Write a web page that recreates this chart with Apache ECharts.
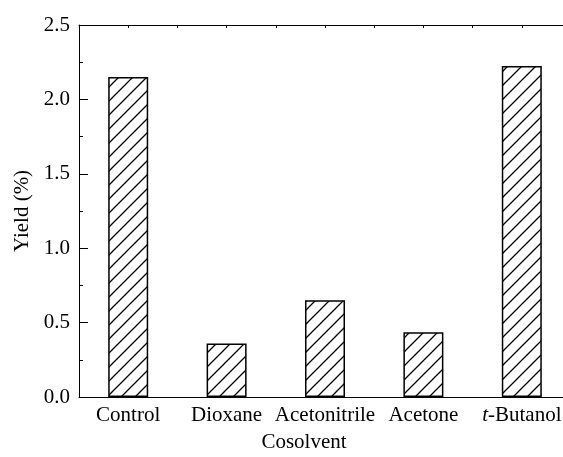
<!DOCTYPE html>
<html>
<head>
<meta charset="utf-8">
<script src="https://cdn.jsdelivr.net/npm/echarts@6/dist/echarts.min.js"></script>
<style>
  html, body { margin: 0; padding: 0; background: #fff; }
  #chart { width: 563px; height: 457px; }
</style>
</head>
<body>
<div id="chart"></div>
<script>
'use strict';

var categories = ['Control', 'Dioxane', 'Acetonitrile', 'Acetone', 't-Butanol'],
    yieldValues = [2.15, 0.36, 0.65, 0.435, 2.225],
    yTicks = ['0.0', '0.5', '1.0', '1.5', '2.0', '2.5'];

// diagonal hatch tile
var tile = document.createElement('canvas');
tile.width = 14;
tile.height = 14;
var ctx = tile.getContext('2d');
ctx.fillStyle = '#fff';
ctx.fillRect(0, 0, 14, 14);
ctx.strokeStyle = '#000';
ctx.lineWidth = 1.3;
ctx.beginPath();
ctx.moveTo(-1, 15); ctx.lineTo(15, -1);
ctx.moveTo(-1, 1); ctx.lineTo(1, -1);
ctx.moveTo(13, 15); ctx.lineTo(15, 13);
ctx.stroke();

var font = 'Liberation Serif';

var chart = echarts.init(document.getElementById('chart'));

var option = {
    animation: false,
    backgroundColor: '#fff',
    grid: {
        left: 79,
        top: 25,
        width: 492,
        height: 372,
        containLabel: false,
        outerBoundsMode: 'none'
    },
    xAxis: [{
        type: 'category',
        position: 'bottom',
        data: categories,
        name: 'Cosolvent',
        nameLocation: 'middle',
        nameGap: 35,
        nameTextStyle: {
            fontFamily: font,
            fontSize: 21,
            color: '#000',
            padding: [0, 42, 0, 0]
        },
        axisLine: { lineStyle: { color: '#000', width: 1 } },
        axisTick: { inside: true, length: 3, lineStyle: { color: '#000' } },
        axisLabel: {
            interval: 0,
            fontFamily: font,
            fontSize: 21,
            color: '#000',
            margin: 8,
            formatter: function (v) {
                return v.charAt(0) === 't' ? '{i|t}' + v.slice(1) : v;
            },
            rich: {
                i: { fontFamily: font, fontSize: 21, fontStyle: 'italic', color: '#000' }
            }
        },
        splitLine: { show: false }
    }, {
        type: 'value',
        position: 'top',
        min: 0,
        max: 10,
        interval: 1,
        axisLine: { show: true, lineStyle: { color: '#000', width: 1 } },
        axisTick: { show: true, inside: true, length: 3, lineStyle: { color: '#000' } },
        axisLabel: { show: false },
        splitLine: { show: false }
    }],
    yAxis: [{
        type: 'value',
        min: 0,
        max: 2.5,
        interval: 0.5,
        name: 'Yield (%)',
        nameLocation: 'middle',
        nameGap: 45,
        nameTextStyle: {
            fontFamily: font,
            fontSize: 21,
            color: '#000'
        },
        axisLine: { show: true, lineStyle: { color: '#000', width: 1 } },
        axisTick: { show: true, inside: true, length: 9, lineStyle: { color: '#000' } },
        minorTick: { show: true, splitNumber: 2, length: 4, lineStyle: { color: '#000' } },
        axisLabel: {
            fontFamily: font,
            fontSize: 21,
            color: '#000',
            margin: 9,
            formatter: function (v) {
                return yTicks[Math.round(v / 0.5)];
            }
        },
        splitLine: { show: false }
    }],
    series: [{
        type: 'bar',
        data: yieldValues,
        barWidth: 40,
        itemStyle: {
            color: { image: tile, repeat: 'repeat' },
            borderColor: '#000',
            borderWidth: 1.5
        }
    }]
};

chart.setOption(option);
</script>
</body>
</html>
